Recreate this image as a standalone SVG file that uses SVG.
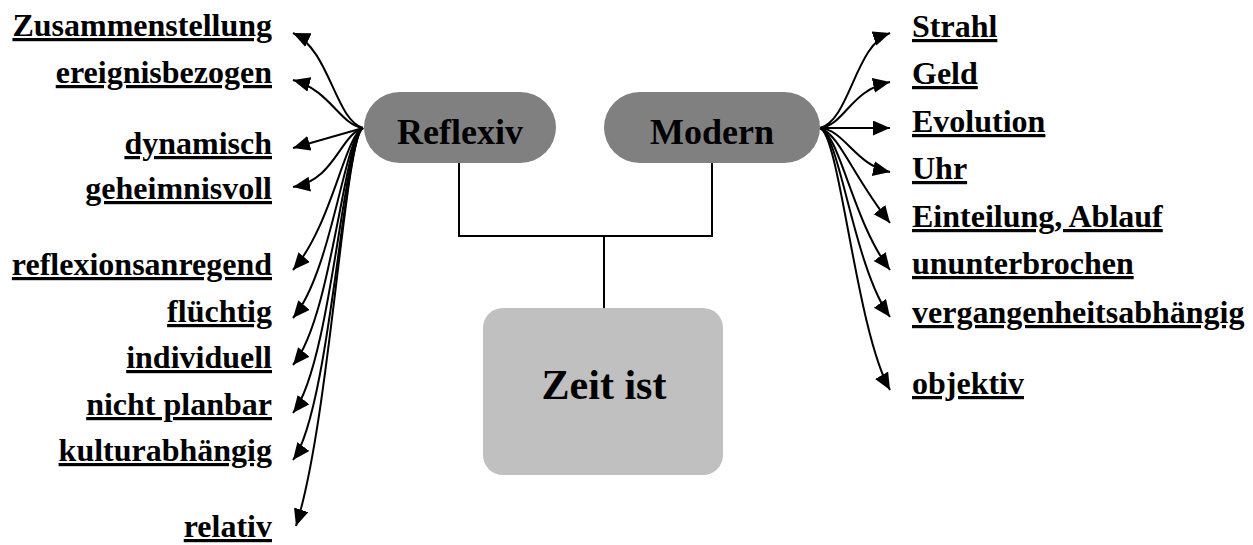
<svg xmlns="http://www.w3.org/2000/svg" width="1253" height="545" viewBox="0 0 1253 545">
  <defs>
    <marker id="arrow" markerUnits="userSpaceOnUse" markerWidth="20" markerHeight="18" refX="17" refY="7.5" orient="auto">
      <path d="M0,0 L17,7.5 L0,15 Z" fill="#000"/>
    </marker>
    <style>
      .lbl { font-weight: bold; font-size: 32px; fill: #000; text-decoration: underline; text-decoration-thickness: 3px; }
      .left { text-anchor: end; }
      .right { text-anchor: start; }
      .node-text { font-weight: bold; fill: #000; text-anchor: middle; }
      .branch { fill: #808080; }
      .root { fill: #c0c0c0; }
      .tree { fill: none; stroke: #000; stroke-width: 2; }
      .curve { fill: none; stroke: #000; stroke-width: 2; marker-end: url(#arrow); }
    </style>
  </defs>
  <rect width="1253" height="545" fill="#fff"/>

  <!-- tree lines between the three nodes -->
  <g id="tree-lines">
    <polyline class="tree" points="459,163 459,236 712,236 712,163"/>
    <line class="tree" x1="604" y1="236" x2="604" y2="309"/>
  </g>

  <!-- curved arrows fanning out from the two branch nodes -->
  <g id="connectors">
    <!-- Reflexiv side -->
    <path class="curve" d="M363,128 C335,120 330,50 293,33"/>
    <path class="curve" d="M363,128 C340,125 330,90 293,80"/>
    <path class="curve" d="M363,128 L293,148"/>
    <path class="curve" d="M363,128 C340,135 335,180 293,187"/>
    <path class="curve" d="M363,128 C345,135 332,225 293,270"/>
    <path class="curve" d="M363,128 C345,135 332,272 293,318"/>
    <path class="curve" d="M363,128 C345,135 332,318 293,365"/>
    <path class="curve" d="M363,128 C345,135 331,365 293,413"/>
    <path class="curve" d="M363,128 C345,135 330,412 293,460"/>
    <path class="curve" d="M363,128 C345,135 330,420 296,526"/>
    <!-- Modern side -->
    <path class="curve" d="M820,128 C850,120 855,45 890,33"/>
    <path class="curve" d="M820,128 C845,125 850,90 890,82"/>
    <path class="curve" d="M820,128 L890,128"/>
    <path class="curve" d="M820,128 C845,130 855,165 890,172"/>
    <path class="curve" d="M820,128 C840,135 852,175 890,223"/>
    <path class="curve" d="M820,128 C840,135 853,222 890,270"/>
    <path class="curve" d="M820,128 C840,135 854,268 890,317"/>
    <path class="curve" d="M820,128 C840,135 856,330 890,390"/>
  </g>

  <g font-family="'Liberation Serif', 'Times New Roman', 'DejaVu Serif', serif">
    <g id="node-reflexiv">
      <rect class="branch" x="364" y="92" width="192" height="71" rx="35.5"/>
      <text class="node-text" x="460" y="144" font-size="36">Reflexiv</text>
    </g>
    <g id="node-modern">
      <rect class="branch" x="604" y="92" width="216" height="71" rx="35.5"/>
      <text class="node-text" x="712" y="144" font-size="36">Modern</text>
    </g>
    <g id="node-zeit">
      <rect class="root" x="483" y="308" width="240" height="167" rx="20"/>
      <text class="node-text" x="604" y="399" font-size="42">Zeit ist</text>
    </g>

    <g id="labels-reflexiv">
      <text class="lbl left" x="272" y="36">Zusammenstellung</text>
      <text class="lbl left" x="272" y="83">ereignisbezogen</text>
      <text class="lbl left" x="272" y="154">dynamisch</text>
      <text class="lbl left" x="272" y="199">geheimnisvoll</text>
      <text class="lbl left" x="272" y="275">reflexionsanregend</text>
      <text class="lbl left" x="272" y="322">flüchtig</text>
      <text class="lbl left" x="272" y="368">individuell</text>
      <text class="lbl left" x="272" y="415">nicht planbar</text>
      <text class="lbl left" x="272" y="461">kulturabhängig</text>
      <text class="lbl left" x="272" y="537">relativ</text>
    </g>
    <g id="labels-modern">
      <text class="lbl right" x="912" y="37">Strahl</text>
      <text class="lbl right" x="912" y="84">Geld</text>
      <text class="lbl right" x="912" y="132">Evolution</text>
      <text class="lbl right" x="912" y="179">Uhr</text>
      <text class="lbl right" x="912" y="227">Einteilung, Ablauf</text>
      <text class="lbl right" x="912" y="274">ununterbrochen</text>
      <text class="lbl right" x="912" y="323">vergangenheitsabhängig</text>
      <text class="lbl right" x="912" y="394">objektiv</text>
    </g>
  </g>
</svg>
